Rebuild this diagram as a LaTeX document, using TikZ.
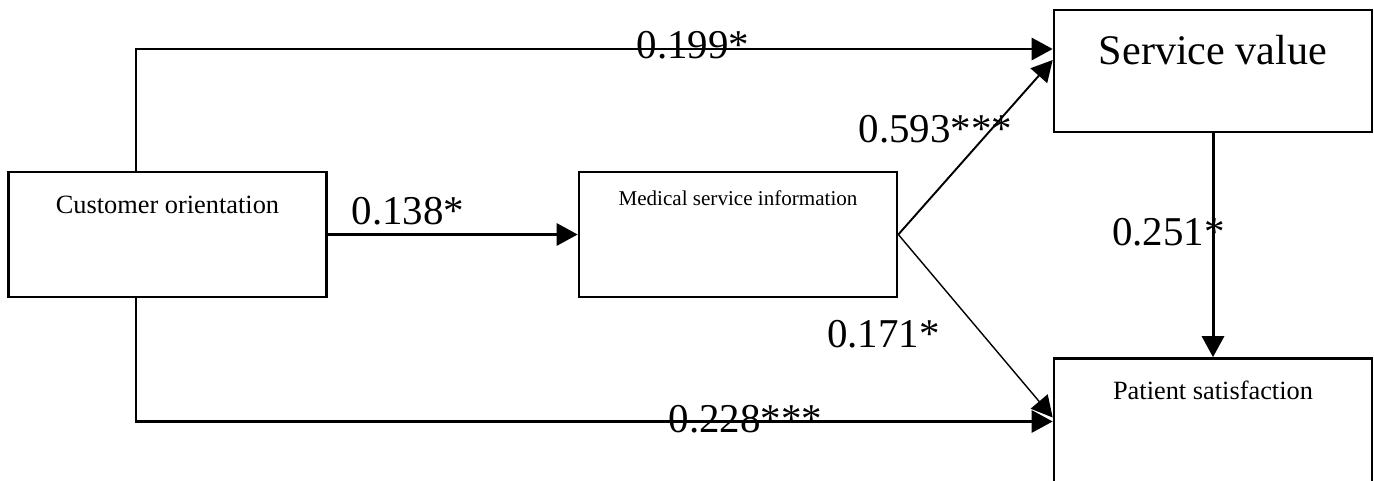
\documentclass[tikz,border=0pt]{standalone}
\usepackage{fontspec}
\setmainfont{Liberation Serif}
\usetikzlibrary{arrows.meta}

\tikzset{
  box/.style={draw, line width=1.5pt, minimum width=6.36cm, minimum height=2.5cm, inner sep=0pt},
  coef/.style={font=\fontsize{23.3}{26}\selectfont, anchor=base, inner sep=0pt},
  link/.style={line width=1.7pt, -{Triangle[length=0.42cm, width=0.44cm]}},
}

\begin{document}
\begin{tikzpicture}[x=2cm, y=2cm]
    \useasboundingbox (0,0) rectangle (13.74,4.8);

    % Boxes
    \node[box, label={[anchor=base, yshift=-0.86cm, font=\fontsize{15}{17}\selectfont]north:Customer orientation}] (co) at (1.675,2.455) {};
    \node[box, label={[anchor=base, yshift=-0.70cm, font=\fontsize{12}{14}\selectfont]north:Medical service information}] (msi) at (7.38,2.455) {};
    \node[box, minimum height=2.44cm, label={[anchor=base, yshift=-1.12cm, font=\fontsize{24}{27}\selectfont]north:Service value}] (sv) at (12.13,4.09) {};
    \node[box, minimum height=2.52cm, label={[anchor=base, yshift=-0.84cm, font=\fontsize{15}{17}\selectfont]north:Patient satisfaction}] (ps) at (12.13,0.585) {};

    % Paths
    \coordinate (split) at (1.36,0);
    \draw[link] (split |- co.north) |- ([yshift=0.44cm]sv.west);
    \draw[link] (split |- co.south) |- (ps.west);
    \draw[link] (co.east) -- (msi.west);
    \draw[link, line width=1.1pt] (msi.east) -- ([yshift=0.22cm]sv.west);
    \draw[link, line width=0.8pt] (msi.east) -- ([yshift=0.08cm]ps.west);
    \draw[link] (sv.south) -- (ps.north);

    % Coefficients
    \node[coef] (c199) at (6.93,4.22) {0.199*};
    \node[coef] (c138) at (4.08,2.56) {0.138*};
    \node[coef] (c593) at (9.355,3.38) {0.593***};
    \node[coef] (c171) at (8.835,1.33) {0.171*};
    \node[coef] (c251) at (11.685,2.35) {0.251*};
    \node[coef] (c228) at (7.455,0.48) {0.228***};
\end{tikzpicture}
\end{document}
